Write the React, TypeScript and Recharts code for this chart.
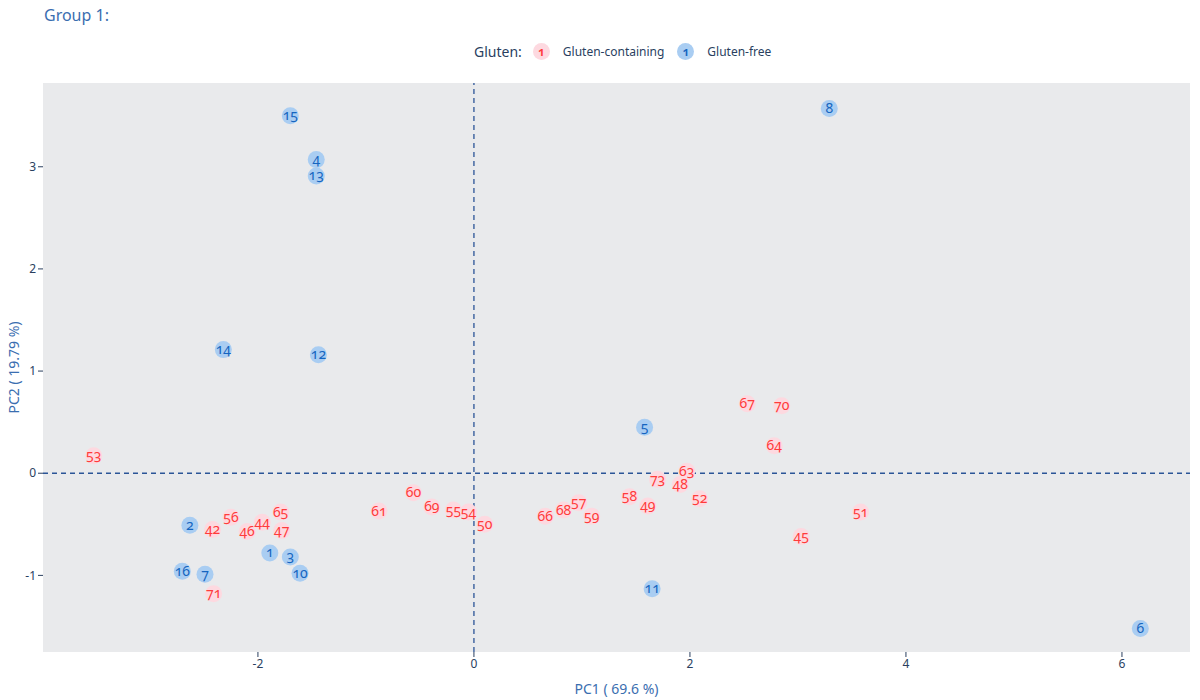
import React from "react";
import {
  ScatterChart,
  Scatter,
  XAxis,
  YAxis,
  ReferenceLine,
  CartesianGrid,
} from "recharts";

// PCA scores
const freeIds = ["15", "4", "13", "8", "14", "12", "5", "2", "1", "3", "10", "16", "7", "11", "6"];
const freePc1 = [-1.7, -1.46, -1.46, 3.29, -2.32, -1.44, 1.58, -2.63, -1.89, -1.7, -1.61, -2.7, -2.49, 1.65, 6.17];
const freePc2 = [3.5, 3.07, 2.91, 3.57, 1.21, 1.16, 0.45, -0.51, -0.78, -0.82, -0.98, -0.96, -0.99, -1.13, -1.52];

const glutenIds = [
  "53", "42", "56", "46", "44", "65", "47", "71", "61", "60", "69", "55", "54", "50", "66",
  "68", "57", "59", "58", "49", "73", "63", "48", "52", "67", "70", "64", "51", "45",
];
const glutenPc1 = [
  -3.52, -2.42, -2.25, -2.1, -1.96, -1.79, -1.78, -2.41, -0.88, -0.56, -0.39, -0.19, -0.05, 0.1, 0.66,
  0.83, 0.97, 1.09, 1.44, 1.61, 1.7, 1.97, 1.91, 2.09, 2.53, 2.85, 2.78, 3.58, 3.03,
];
const glutenPc2 = [
  0.17, -0.55, -0.43, -0.57, -0.48, -0.38, -0.56, -1.18, -0.37, -0.19, -0.33, -0.36, -0.38, -0.5, -0.42,
  -0.36, -0.29, -0.42, -0.23, -0.32, -0.06, 0.02, -0.11, -0.25, 0.68, 0.66, 0.27, -0.38, -0.62,
];

const xTicks = [-2, 0, 2, 4, 6];
const yTicks = [-1, 0, 1, 2, 3];

const freeData = freeIds.map((id, i) => ({ id, x: freePc1[i], y: freePc2[i] }));
const glutenData = glutenIds.map((id, i) => ({ id, x: glutenPc1[i], y: glutenPc2[i] }));

const FONT = "'Noto Sans', 'Open Sans', sans-serif";
const AXIS = "#2a3f5f";
const DASH = "#2b5597";

function makeShape(fill: string, color: string) {
  return (props: any) => {
    const { cx, cy, payload } = props;
    if (cx == null || cy == null) return null;
    return (
      <g>
        <circle cx={cx} cy={cy} r={8.5} fill={fill} />
        <text
          x={cx}
          y={cy}
          dy={4.5}
          textAnchor="middle"
          fill={color}
          fontSize={14}
          fontFamily={FONT}
          style={{ fontVariantNumeric: "oldstyle-nums" }}
        >
          {payload.id}
        </text>
      </g>
    );
  };
}

function LegendDot({ fill, color }: { fill: string; color: string }) {
  return (
    <span
      style={{
        display: "inline-block",
        width: 17,
        height: 17,
        borderRadius: 9,
        background: fill,
        color,
        fontSize: 12,
        lineHeight: "17px",
        textAlign: "center",
        fontWeight: 600,
        marginRight: 13,
        fontVariantNumeric: "oldstyle-nums",
      }}
    >
      1
    </span>
  );
}

export default function App() {
  return (
    <div style={{ position: "relative", width: 1200, height: 700, background: "#fff", fontFamily: FONT }}>
      <style>{"body{margin:0}"}</style>
      <div style={{ position: "absolute", left: 44, top: 4, fontSize: 16, color: "#3a6eb0" }}>Group 1:</div>
      <div
        style={{
          position: "absolute",
          left: 474,
          top: 42,
          fontSize: 12,
          color: AXIS,
          display: "flex",
          alignItems: "center",
          whiteSpace: "nowrap",
        }}
      >
        <span style={{ fontSize: 14, marginRight: 11 }}>Gluten:</span>
        <LegendDot fill="#fdd9e0" color="#ff3b3b" />
        <span style={{ marginRight: 13 }}>Gluten-containing</span>
        <LegendDot fill="#a9cdf2" color="#1565c0" />
        <span>Gluten-free</span>
      </div>
      <ScatterChart width={1200} height={700} margin={{ top: 83, right: 10, bottom: 0, left: 0 }}>
        <CartesianGrid fill="#e9eaec" stroke="none" horizontal={false} vertical={false} />
        <XAxis
          type="number"
          dataKey="x"
          domain={[-3.99, 6.63]}
          ticks={xTicks}
          allowDataOverflow
          height={48}
          axisLine={false}
          tickLine={{ stroke: AXIS }}
          tickSize={5}
          tick={{ fontSize: 12, fill: AXIS, fontFamily: FONT }}
          label={{ value: "PC1 ( 69.6 %)", position: "insideBottom", offset: 6, fill: "#3a6eb0", fontSize: 14 }}
        />
        <YAxis
          type="number"
          dataKey="y"
          domain={[-1.75, 3.82]}
          ticks={yTicks}
          allowDataOverflow
          width={43}
          axisLine={false}
          tickLine={{ stroke: AXIS }}
          tickSize={5}
          tick={{ fontSize: 12, fill: AXIS, fontFamily: FONT }}
          label={{
            value: "PC2 ( 19.79 %)",
            angle: -90,
            position: "insideLeft",
            offset: 14,
            fill: "#3a6eb0",
            fontSize: 14,
            style: { textAnchor: "middle" },
          }}
        />
        <ReferenceLine x={0} stroke={DASH} strokeDasharray="5 4" strokeWidth={1.3} />
        <ReferenceLine y={0} stroke={DASH} strokeDasharray="5 4" strokeWidth={1.3} />
        <Scatter data={glutenData} shape={makeShape("#fdd9e0", "#ff3b3b")} isAnimationActive={false} />
        <Scatter data={freeData} shape={makeShape("#a9cdf2", "#1565c0")} isAnimationActive={false} />
      </ScatterChart>
    </div>
  );
}
